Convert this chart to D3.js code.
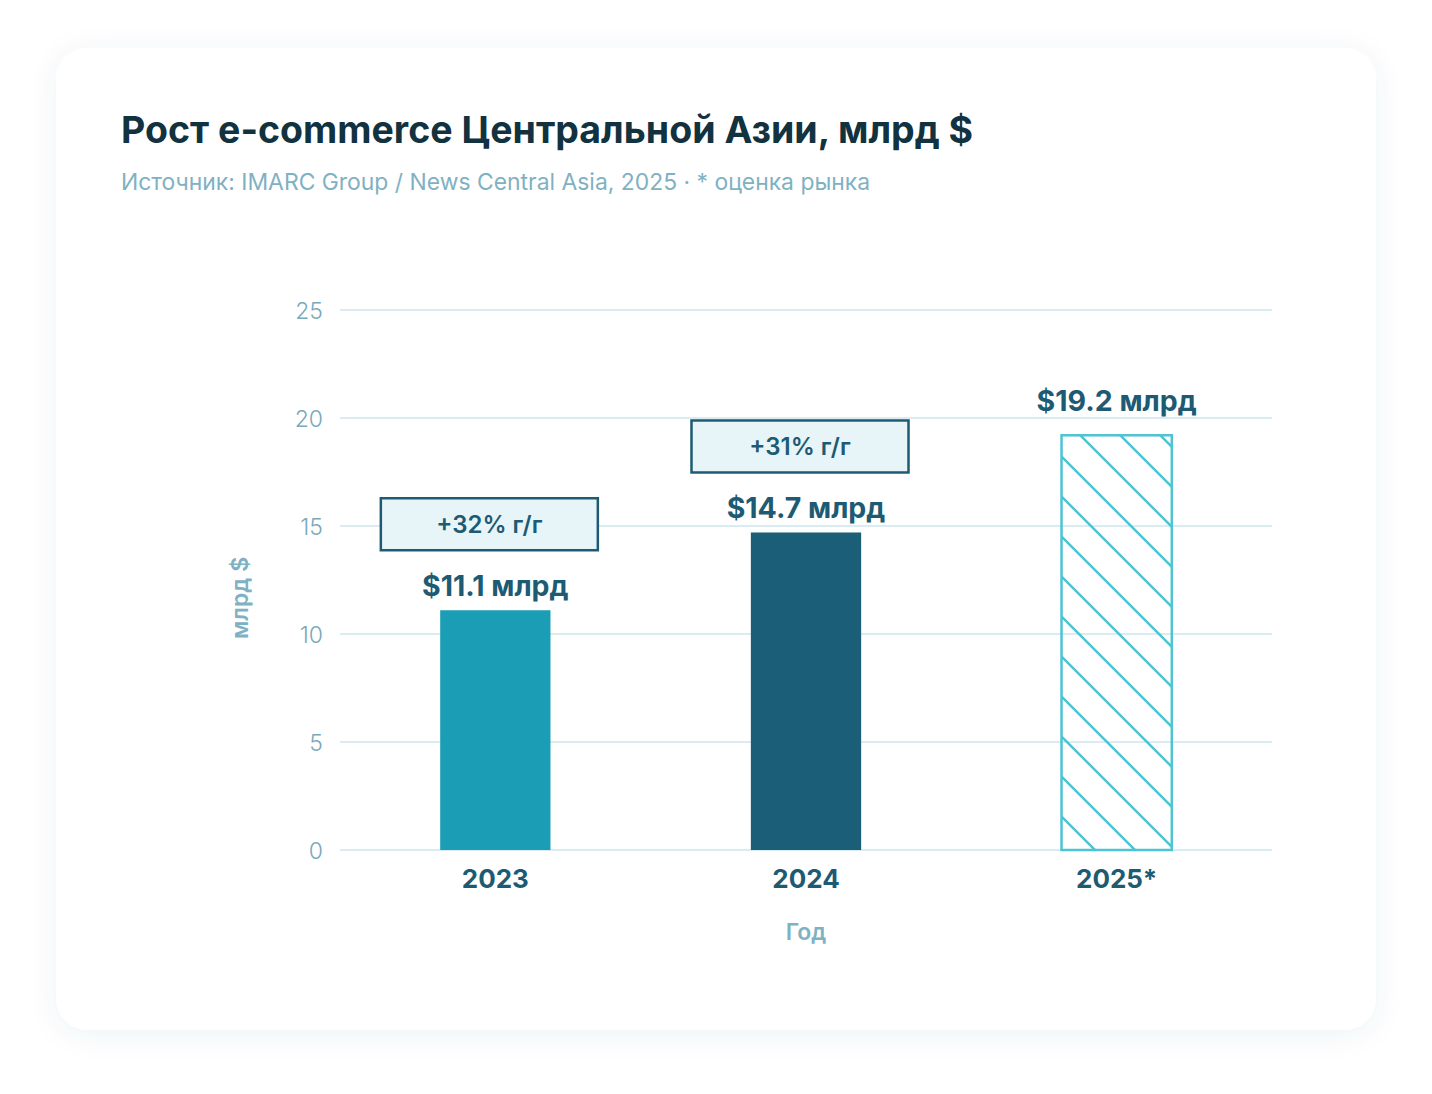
<!DOCTYPE html>
<html lang="ru">
<head>
    <meta charset="UTF-8">
    <title>Рост e-commerce Центральной Азии</title>
    <style>
        body {
            margin: 0;
            padding: 0;
            background-color: #ffffff;
            font-family: 'Inter', 'Noto Sans', sans-serif;
        }
        .grid line {
            stroke: #d9ecf2;
            stroke-width: 2px;
        }
        .y-tick {
            font-size: 23px;
            font-weight: 300;
            fill: #7ba9ba;
        }
        .x-tick {
            font-size: 26px;
            font-weight: 700;
            fill: #1c5b73;
        }
        .value-label {
            font-size: 28.5px;
            font-weight: 700;
            fill: #1c5b73;
        }
        .growth-label {
            font-size: 24px;
            font-weight: 600;
            fill: #1c5b73;
        }
        .axis-title {
            font-size: 23px;
            font-weight: 600;
            fill: #7fb1c4;
        }
    </style>
</head>
<body>
    <div id="chart"></div>

    <script src="https://d3js.org/d3.v7.min.js"></script>
    <script>
        const width = 1432;
        const height = 1094;

        // data
        const years = ["2023", "2024", "2025*"];
        const values = [11.1, 14.7, 19.2];
        const valueLabels = ["$11.1 млрд", "$14.7 млрд", "$19.2 млрд"];
        const growthLabels = ["+32% г/г", "+31% г/г", null];
        const estimated = [false, false, true];
        const yTicks = [0, 5, 10, 15, 20, 25];

        const barColors = ["#1a9db5", "#1b5e78", "#4ec3d3"];

        const margin = { top: 310, right: 160, bottom: 244, left: 340 };
        const plotW = width - margin.left - margin.right;
        const plotH = height - margin.top - margin.bottom;

        const svg = d3.select('#chart')
            .append('svg')
            .attr('width', width)
            .attr('height', height);

        const defs = svg.append('defs');

        const shadow = defs.append('filter')
            .attr('id', 'card-shadow')
            .attr('x', '-10%').attr('y', '-10%')
            .attr('width', '120%').attr('height', '120%');
        shadow.append('feDropShadow')
            .attr('dx', 0).attr('dy', 4)
            .attr('stdDeviation', 14)
            .attr('flood-color', '#1c5b73')
            .attr('flood-opacity', 0.07);

        const hatch = defs.append('pattern')
            .attr('id', 'hatch')
            .attr('patternUnits', 'userSpaceOnUse')
            .attr('patternTransform', 'translate(15,0)')
            .attr('width', 40)
            .attr('height', 40);
        hatch.append('path')
            .attr('d', 'M0,0 L40,40 M-10,30 L10,50 M30,-10 L50,10')
            .attr('stroke', barColors[2])
            .attr('stroke-width', 2.5);

        // card
        svg.append('rect')
            .attr('x', 56).attr('y', 48)
            .attr('width', 1320).attr('height', 982)
            .attr('rx', 32)
            .attr('fill', '#ffffff')
            .attr('filter', 'url(#card-shadow)');

        svg.append('text')
            .attr('x', 121).attr('y', 143)
            .attr('font-size', 37.5)
            .attr('font-weight', 700)
            .attr('fill', '#12323f')
            .text('Рост e-commerce Центральной Азии, млрд $');

        svg.append('text')
            .attr('x', 121).attr('y', 190)
            .attr('font-size', 22.9)
            .attr('font-weight', 400)
            .attr('fill', '#80b1c2')
            .text('Источник: IMARC Group / News Central Asia, 2025 · * оценка рынка');

        const g = svg.append('g')
            .attr('transform', `translate(${margin.left},${margin.top})`);

        const x = d3.scaleBand()
            .domain(years)
            .range([0, plotW])
            .paddingInner(0.645)
            .paddingOuter(0.3225);

        const y = d3.scaleLinear()
            .domain([0, 25])
            .range([plotH, 0]);

        // gridlines
        g.append('g')
            .attr('class', 'grid')
            .selectAll('line')
            .data(yTicks)
            .enter().append('line')
            .attr('x1', 0).attr('x2', plotW)
            .attr('y1', d => y(d)).attr('y2', d => y(d));

        g.selectAll('.y-tick')
            .data(yTicks)
            .enter().append('text')
            .attr('class', 'y-tick')
            .attr('x', -17)
            .attr('y', d => y(d))
            .attr('dy', '0.4em')
            .attr('text-anchor', 'end')
            .text(d => d);

        const data = years.map((yr, i) => ({
            year: yr,
            value: values[i],
            label: valueLabels[i],
            growth: growthLabels[i],
            est: estimated[i],
            color: barColors[i]
        }));

        // bars
        g.selectAll('.bar')
            .data(data)
            .enter().append('rect')
            .attr('class', 'bar')
            .attr('x', d => x(d.year))
            .attr('y', d => y(d.value))
            .attr('width', x.bandwidth())
            .attr('height', d => y(0) - y(d.value))
            .attr('fill', d => d.est ? 'url(#hatch)' : d.color)
            .attr('stroke', d => d.est ? d.color : 'none')
            .attr('stroke-width', 2.5);

        // the estimate label sits a little higher above its outlined bar
        g.selectAll('.value-label')
            .data(data)
            .enter().append('text')
            .attr('class', 'value-label')
            .attr('x', d => x(d.year) + x.bandwidth() / 2)
            .attr('y', d => y(d.value) - (d.est ? 24 : 14))
            .attr('text-anchor', 'middle')
            .text(d => d.label);

        // growth badges
        const badgeW = 217, badgeH = 52;
        const badges = g.selectAll('.badge')
            .data(data.filter(d => d.growth))
            .enter().append('g')
            .attr('class', 'badge')
            .attr('transform', d => `translate(${x(d.year) + x.bandwidth() / 2 - 6},${y(d.value) - 60 - badgeH / 2})`);

        badges.append('rect')
            .attr('x', -badgeW / 2)
            .attr('y', -badgeH / 2)
            .attr('width', badgeW)
            .attr('height', badgeH)
            .attr('fill', '#e7f4f8')
            .attr('stroke', '#1c5b73')
            .attr('stroke-width', 2.5);

        badges.append('text')
            .attr('class', 'growth-label')
            .attr('text-anchor', 'middle')
            .attr('dy', '0.36em')
            .text(d => d.growth);

        // x labels
        g.selectAll('.x-tick')
            .data(years)
            .enter().append('text')
            .attr('class', 'x-tick')
            .attr('x', d => x(d) + x.bandwidth() / 2)
            .attr('y', plotH + 38)
            .attr('text-anchor', 'middle')
            .text(d => d);

        g.append('text')
            .attr('class', 'axis-title')
            .attr('x', plotW / 2)
            .attr('y', plotH + 90)
            .attr('text-anchor', 'middle')
            .text('Год');

        g.append('text')
            .attr('class', 'axis-title')
            .attr('transform', `translate(${-92},${plotH / 2 + 18}) rotate(-90)`)
            .attr('text-anchor', 'middle')
            .attr('font-size', 21)
            .text('млрд $');
    </script>
</body>
</html>
